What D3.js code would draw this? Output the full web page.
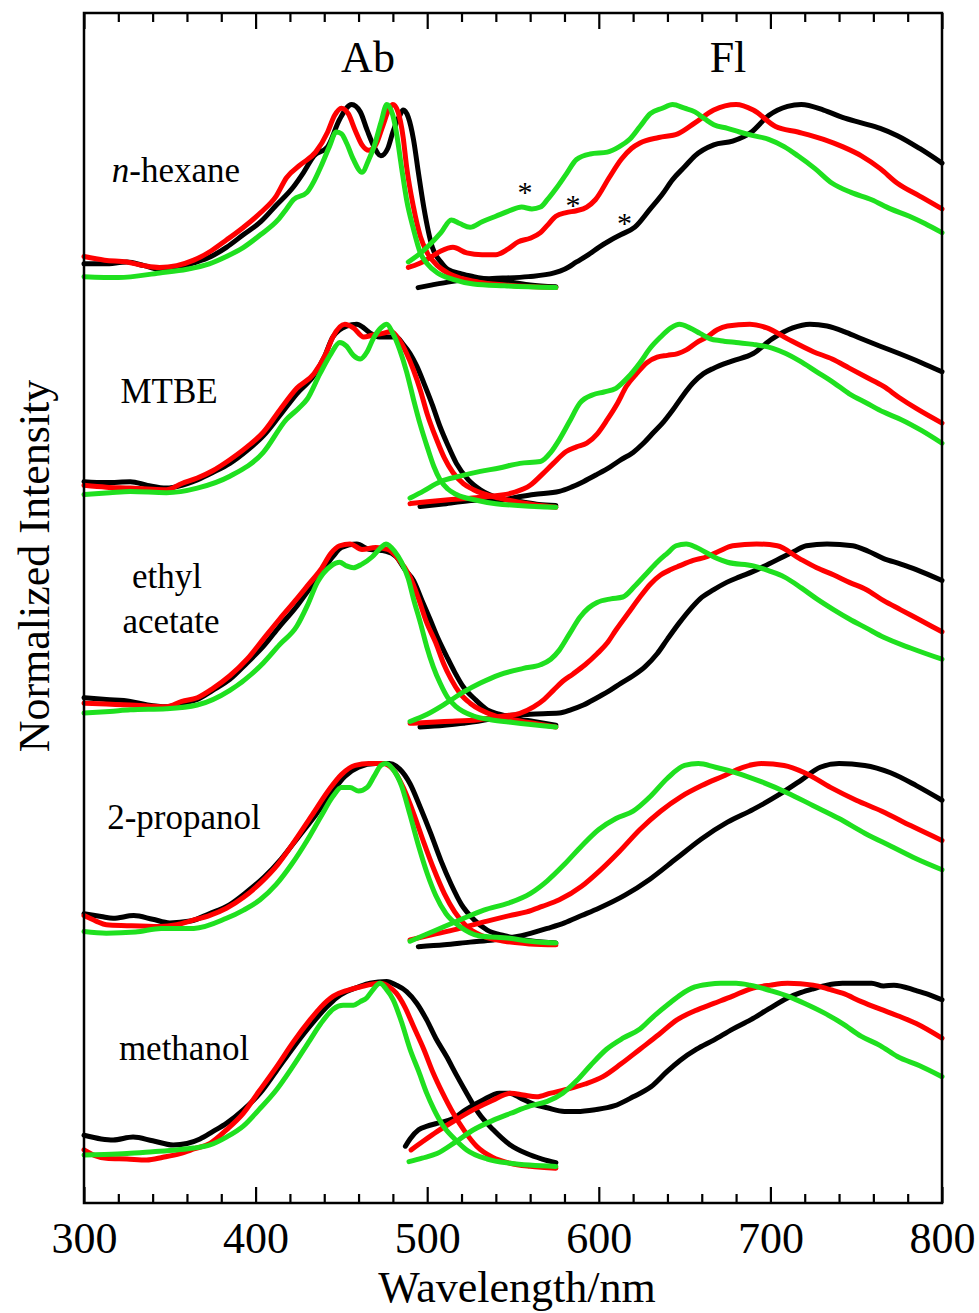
<!DOCTYPE html>
<html><head><meta charset="utf-8">
<script src="https://cdn.jsdelivr.net/npm/d3@7"></script>
<style>body{margin:0;background:#fff}svg{display:block}text{font-family:"Liberation Serif","Times New Roman",serif;fill:#000}</style>
</head><body><svg id="c" width="979" height="1313"></svg>
<script>
// ---------- data ----------
const solvents = ["n-hexane", "MTBE", "ethyl acetate", "2-propanol", "methanol"];
const panelOffsets = [4.8, 3.6, 2.4, 1.2, 0];
const xTicksMajor = [300, 400, 500, 600, 700, 800];
const seriesColors = {black: "#000000", red: "#ff0000", green: "#1fe01f"};
const bandLabels = ["Ab", "Fl"];
const asterisks = [[557, 5.35], [585, 5.28], [615, 5.18]];

// n-hexane
const hexAbsK = [[300,0.13],[312,0.13],[325,0.14],[335,0.12],[344,0.10],[355,0.11],[364,0.135],[374,0.17],[383,0.22],[393,0.29],[403,0.36],[412,0.45],[422,0.55],[428,0.63],[434,0.72],[442,0.77],[449,0.92],[456,1.0],[461,0.96],[465,0.86],[469,0.77],[473,0.72],[477,0.76],[480,0.85],[484,0.94],[486,0.97],[489,0.93],[492,0.81],[495,0.62],[498,0.44],[503,0.22],[508,0.14],[512,0.10],[520,0.075],[527,0.06],[540,0.04],[549,0.03],[560,0.015],[575,0.005]];
const hexAbsR = [[300,0.17],[312,0.15],[325,0.14],[335,0.12],[344,0.11],[354,0.12],[364,0.15],[374,0.20],[383,0.26],[393,0.33],[403,0.41],[412,0.50],[418,0.60],[426,0.67],[435,0.74],[442,0.85],[446,0.94],[450,0.98],[454,0.95],[458,0.86],[462,0.78],[466,0.75],[470,0.78],[474,0.88],[478,0.98],[480,1.0],[483,0.96],[486,0.82],[488,0.66],[492,0.44],[496,0.28],[500,0.19],[506,0.12],[512,0.08],[520,0.05],[530,0.03],[545,0.015],[575,0.0]];
const hexAbsG = [[300,0.06],[320,0.055],[344,0.08],[360,0.10],[373,0.13],[383,0.17],[393,0.22],[403,0.29],[413,0.37],[418,0.43],[422,0.48],[430,0.52],[434,0.58],[438,0.66],[443,0.77],[447,0.85],[450,0.84],[453,0.79],[457,0.70],[462,0.63],[466,0.70],[469,0.77],[473,0.90],[476.5,1.0],[480,0.94],[482,0.85],[485,0.66],[488,0.48],[492,0.32],[496,0.19],[500,0.13],[506,0.08],[515,0.045],[527,0.02],[545,0.01],[575,0.0]];
const hexFlK = [[494.7,0.0],[503,0.015],[512,0.03],[525,0.045],[538,0.05],[559,0.06],[574,0.08],[580,0.10],[587,0.14],[594,0.18],[600,0.22],[607,0.26],[613,0.29],[621,0.33],[630,0.43],[637,0.51],[643,0.59],[650,0.66],[656,0.72],[667,0.78],[678,0.80],[689,0.85],[699,0.94],[710,0.99],[718,1.0],[731,0.97],[742,0.93],[753,0.90],[764,0.87],[774,0.83],[787,0.76],[800,0.68]];
const hexFlR = [[489,0.11],[495,0.13],[501,0.16],[508,0.20],[515,0.22],[523,0.19],[532,0.18],[540,0.18],[547,0.21],[553,0.25],[560,0.27],[566,0.30],[570,0.34],[575,0.39],[581,0.41],[587,0.42],[593,0.44],[598,0.48],[606,0.60],[613,0.70],[619,0.76],[624,0.79],[635,0.82],[646,0.84],[656,0.90],[667,0.97],[680,1.0],[690,0.97],[703,0.88],[716,0.85],[731,0.81],[742,0.77],[753,0.72],[764,0.65],[774,0.57],[787,0.50],[800,0.43]];
const hexFlG = [[489,0.14],[495,0.18],[501,0.23],[508,0.30],[514,0.37],[519,0.35],[525,0.33],[532,0.36],[540,0.39],[548,0.42],[555,0.44],[561,0.43],[566,0.44],[570,0.48],[575,0.54],[581,0.62],[587,0.70],[595,0.73],[605,0.74],[612,0.77],[618,0.81],[624,0.88],[630,0.95],[637,0.98],[643,1.0],[650,0.98],[656,0.96],[662,0.92],[667,0.89],[675,0.87],[682,0.85],[690,0.83],[699,0.81],[708,0.77],[716,0.72],[726,0.65],[736,0.57],[747,0.52],[759,0.48],[770,0.43],[781,0.39],[790,0.35],[800,0.30]];

// MTBE
const mtbeAbsK = [[300,0.14],[313,0.135],[327,0.14],[337,0.12],[348,0.105],[357,0.12],[366,0.15],[375,0.19],[385,0.24],[395,0.31],[404.5,0.39],[414,0.50],[424,0.62],[434,0.72],[440,0.82],[445,0.93],[453,0.99],[459,1.0],[463,0.98],[467,0.95],[472,0.93],[476,0.93],[482,0.93],[486,0.89],[490,0.84],[494,0.77],[498,0.68],[503,0.56],[507.5,0.44],[512,0.34],[517,0.24],[524,0.15],[531,0.096],[542,0.05],[555,0.03],[565,0.015],[575,0.01]];
const mtbeAbsR = [[300,0.12],[313,0.11],[327,0.105],[337,0.10],[348,0.096],[357,0.13],[366,0.16],[375,0.20],[385,0.26],[395,0.33],[404.5,0.41],[414,0.53],[424,0.65],[434,0.73],[441,0.84],[445,0.93],[452,1.0],[457,0.98],[463,0.93],[468,0.94],[474,0.95],[479,0.96],[484,0.91],[488,0.84],[492,0.75],[496,0.64],[500,0.51],[505.5,0.37],[510,0.27],[515,0.19],[521,0.13],[527,0.096],[542,0.05],[555,0.025],[575,0.0]];
const mtbeAbsG = [[300,0.07],[315,0.08],[327,0.087],[348,0.08],[366,0.105],[385,0.17],[404.5,0.30],[418,0.48],[425,0.54],[430,0.59],[437.5,0.73],[444,0.84],[449,0.90],[453,0.88],[457,0.83],[461,0.81],[465,0.85],[468.5,0.92],[473,0.98],[476.4,1.0],[480,0.95],[484,0.86],[488,0.74],[492,0.59],[496,0.45],[500,0.33],[504,0.22],[507.5,0.15],[512,0.10],[517,0.07],[528,0.04],[540,0.02],[575,0.0]];
const mtbeFlK = [[495.8,0.005],[511,0.02],[531,0.04],[542,0.04],[552,0.055],[562,0.07],[577,0.087],[584,0.11],[591,0.14],[599,0.18],[606.5,0.22],[613,0.26],[620,0.30],[626,0.35],[632,0.41],[638,0.47],[643,0.53],[649,0.61],[655,0.68],[661,0.73],[667,0.76],[678,0.80],[690,0.84],[701,0.92],[713,0.98],[723,1.0],[733,0.99],[743,0.96],[752,0.925],[764,0.88],[775,0.84],[788,0.79],[800,0.74]];
const mtbeFlR = [[490,0.02],[500,0.03],[511,0.04],[525,0.05],[537,0.06],[550,0.08],[560,0.12],[567,0.18],[573.5,0.24],[581,0.305],[587,0.33],[593,0.35],[599,0.40],[605,0.48],[611,0.57],[616,0.66],[622,0.73],[628,0.79],[634,0.82],[640,0.83],[646,0.84],[651,0.86],[657,0.90],[663,0.93],[669,0.97],[675,0.99],[688,1.0],[698,0.98],[710,0.92],[725,0.85],[736,0.81],[746,0.76],[756,0.71],[766,0.66],[775,0.60],[785,0.54],[800,0.46]];
const mtbeFlG = [[490,0.05],[498,0.09],[507.5,0.14],[519,0.17],[531,0.196],[542,0.215],[554,0.24],[566,0.25],[572,0.30],[577,0.37],[583,0.47],[589,0.57],[596.6,0.615],[603,0.63],[610,0.65],[617,0.71],[624,0.79],[630,0.87],[636,0.93],[642,0.98],[647,1.0],[653,0.98],[659,0.95],[665,0.92],[671,0.91],[680,0.90],[690,0.89],[701,0.87],[709,0.84],[717,0.80],[727,0.74],[737,0.68],[746,0.62],[756,0.57],[766,0.52],[776,0.48],[788,0.42],[800,0.35]];

// ethyl acetate
const eaAbsK = [[300,0.16],[313,0.15],[327,0.14],[337,0.12],[348,0.11],[357,0.13],[366,0.15],[375,0.20],[385,0.26],[395,0.35],[404.5,0.44],[414,0.55],[424,0.66],[431,0.75],[438,0.84],[445,0.93],[450,0.98],[459,1.0],[466,0.97],[476,0.96],[482,0.93],[487,0.86],[492,0.80],[497,0.69],[501.6,0.59],[506,0.49],[511.4,0.385],[516,0.30],[521,0.22],[528,0.15],[535,0.094],[542,0.07],[550,0.05],[562,0.03],[575,0.01]];
const eaAbsR = [[300,0.13],[313,0.125],[327,0.12],[337,0.115],[348,0.11],[357,0.14],[366,0.16],[375,0.21],[385,0.28],[395,0.37],[404.5,0.48],[414,0.59],[424,0.70],[431,0.78],[438,0.86],[444,0.95],[449,0.99],[455,1.0],[462,0.97],[470,0.98],[477,0.97],[483,0.92],[490,0.82],[495,0.70],[499.7,0.57],[505,0.46],[509.4,0.35],[514,0.26],[519,0.185],[525,0.13],[531,0.094],[540,0.06],[550,0.04],[562,0.02],[575,0.0]];
const eaAbsG = [[300,0.076],[315,0.085],[327,0.094],[348,0.10],[366,0.12],[385,0.20],[404.5,0.35],[414,0.45],[424,0.55],[430,0.66],[436,0.79],[444,0.88],[449,0.90],[453,0.88],[457,0.87],[462,0.89],[468,0.93],[473,0.98],[476,1.0],[481,0.96],[485,0.90],[489,0.81],[492,0.70],[496,0.57],[499.7,0.44],[503.5,0.33],[507.5,0.24],[512,0.16],[517,0.11],[527,0.06],[537,0.04],[550,0.025],[575,0.0]];
const eaFlK = [[495.8,0.0],[510,0.01],[521,0.02],[535,0.04],[542,0.057],[560,0.07],[577,0.076],[584,0.095],[591,0.12],[599,0.16],[606.5,0.20],[613,0.24],[620,0.28],[627,0.33],[634,0.40],[640,0.48],[647,0.57],[653,0.64],[659,0.70],[667,0.75],[674.5,0.79],[682,0.82],[690,0.85],[699,0.89],[707.5,0.93],[714,0.96],[721,0.99],[733,1.0],[748,0.99],[757,0.96],[766,0.92],[776,0.89],[785,0.86],[800,0.80]];
const eaFlR = [[490,0.02],[510,0.03],[530,0.04],[542,0.057],[554,0.075],[562,0.11],[568,0.15],[573.5,0.20],[579,0.25],[585,0.29],[592,0.34],[599,0.40],[605,0.46],[610,0.53],[617,0.62],[624,0.71],[630,0.78],[636,0.83],[642,0.86],[647,0.88],[655,0.91],[663,0.93],[670,0.96],[678,0.99],[692,1.0],[704,0.99],[717,0.92],[727,0.87],[737,0.83],[746,0.79],[756,0.75],[766,0.69],[776,0.64],[788,0.58],[800,0.52]];
const eaFlG = [[490,0.03],[500,0.07],[511,0.13],[521,0.19],[531,0.24],[542,0.285],[556,0.32],[566,0.34],[572,0.37],[577,0.42],[583,0.51],[589,0.60],[594,0.65],[599,0.68],[607,0.70],[614,0.71],[621,0.77],[628,0.84],[634,0.90],[640,0.95],[645,0.99],[651,1.0],[657,0.98],[663,0.95],[669,0.92],[675,0.90],[690,0.88],[700,0.85],[708,0.82],[718,0.76],[727,0.70],[737,0.64],[746,0.59],[756,0.54],[766,0.49],[782,0.43],[800,0.37]];

// 2-propanol
const propAbsK = [[300,0.18],[310,0.165],[317,0.155],[329,0.17],[340,0.15],[350,0.13],[362,0.14],[373,0.18],[385,0.23],[395,0.30],[405,0.38],[415,0.48],[425,0.60],[435,0.72],[445,0.85],[452,0.93],[460,0.98],[470,1.0],[478,1.0],[484,0.97],[490,0.89],[496,0.76],[502,0.62],[508,0.47],[514,0.34],[520,0.23],[527,0.15],[535,0.09],[545,0.06],[555,0.04],[575,0.02]];
const propAbsR = [[300,0.17],[307,0.14],[313,0.12],[325,0.115],[344,0.11],[354,0.12],[364,0.146],[373,0.17],[383,0.21],[393,0.27],[403,0.35],[413,0.45],[423,0.58],[433,0.72],[443,0.86],[450,0.94],[458,0.99],[466,1.0],[474,1.0],[480,0.97],[486,0.87],[492,0.73],[498,0.57],[504,0.42],[510,0.29],[516,0.19],[523,0.11],[532,0.06],[545,0.03],[560,0.015],[575,0.01]];
const propAbsG = [[300,0.083],[313,0.074],[330,0.08],[345,0.10],[364,0.10],[383,0.155],[393,0.20],[402.6,0.256],[412,0.34],[421,0.45],[430,0.58],[438,0.71],[445,0.82],[450,0.87],[455,0.87],[460,0.85],[465,0.87],[469,0.93],[473,0.99],[476,1.0],[480,0.97],[485,0.88],[490,0.72],[495,0.55],[500,0.40],[505,0.28],[511,0.18],[519,0.11],[530,0.06],[548,0.046],[560,0.03],[575,0.02]];
const propFlK = [[494.8,0.0],[510,0.01],[525,0.025],[538.5,0.037],[555,0.06],[570,0.10],[580,0.13],[590,0.17],[600,0.21],[615,0.28],[630,0.37],[645,0.48],[660,0.59],[675,0.68],[690,0.75],[705,0.83],[718,0.91],[729,0.98],[740,1.0],[755,0.99],[770,0.95],[785,0.88],[800,0.80]];
const propFlR = [[490,0.037],[505,0.07],[519,0.10],[535,0.14],[548,0.17],[558,0.19],[567,0.22],[577,0.256],[590,0.33],[600,0.41],[612,0.52],[624,0.64],[636,0.74],[648,0.82],[660,0.88],[672,0.93],[684,0.98],[695,1.0],[708,0.99],[720,0.95],[735,0.87],[750,0.80],[765,0.74],[782,0.66],[800,0.58]];
const propFlG = [[490,0.03],[505,0.09],[519,0.146],[533,0.20],[548,0.24],[560,0.29],[570,0.36],[580,0.45],[590,0.55],[600,0.64],[610,0.70],[620,0.74],[630,0.82],[640,0.92],[650,0.99],[658,1.0],[668,0.98],[680,0.95],[695,0.90],[710,0.84],[725,0.77],[740,0.70],[755,0.62],[770,0.55],[785,0.48],[800,0.42]];

// methanol
const methAbsK = [[300,0.17],[310,0.15],[317,0.144],[328.6,0.16],[340,0.14],[352,0.117],[360,0.125],[367.6,0.15],[375,0.19],[383,0.235],[393,0.31],[402.6,0.40],[412,0.52],[422,0.65],[432,0.77],[441.4,0.87],[447,0.92],[453,0.955],[460,0.98],[466.7,1.0],[476.4,1.01],[482,0.99],[488,0.955],[494,0.89],[499.7,0.80],[505,0.70],[511.3,0.60],[517,0.50],[523,0.40],[530,0.29],[538.5,0.20],[548,0.12],[558,0.07],[567,0.04],[575,0.02]];
const methAbsR = [[300,0.09],[306,0.06],[313,0.044],[325,0.04],[336.5,0.035],[346,0.05],[356,0.07],[364,0.095],[373.4,0.126],[383,0.20],[392.8,0.29],[402,0.41],[412.3,0.545],[422,0.68],[431.7,0.80],[438,0.87],[445.3,0.93],[453,0.96],[460.8,0.98],[472.5,1.0],[478,0.98],[482,0.946],[487,0.87],[492,0.765],[498,0.64],[503.5,0.51],[509,0.40],[515.2,0.29],[522,0.19],[528.8,0.11],[538,0.05],[548.3,0.017],[560,0.0],[575,-0.01]];
const methAbsG = [[300,0.062],[312,0.065],[325,0.07],[340,0.08],[354,0.09],[364,0.10],[373.4,0.117],[383,0.16],[392.8,0.22],[402,0.31],[412.3,0.42],[422,0.55],[431.7,0.69],[438,0.78],[445.3,0.86],[451,0.88],[457,0.88],[461,0.90],[464.7,0.92],[468,0.96],[472.5,1.0],[476,0.97],[480.2,0.91],[485,0.79],[490,0.64],[495,0.52],[499.7,0.40],[504,0.31],[509.4,0.22],[516,0.15],[523,0.09],[535,0.04],[548.3,0.017],[575,0.0]];
const methFlK = [[487.3,0.11],[490,0.15],[495,0.2],[500,0.22],[505.7,0.235],[515,0.26],[522.6,0.31],[532,0.36],[542,0.40],[548,0.40],[555,0.37],[562,0.34],[570,0.32],[580,0.30],[587.3,0.30],[598,0.31],[608.8,0.33],[620,0.38],[630.4,0.435],[640,0.52],[647.5,0.58],[657,0.64],[667,0.69],[678,0.75],[688.4,0.80],[699,0.86],[710,0.92],[718,0.95],[725,0.97],[733,0.99],[742,1.0],[759,1.0],[766,0.985],[772,0.99],[785,0.96],[792,0.94],[800,0.91]];
const methFlR = [[490.6,0.09],[498,0.14],[505.7,0.19],[516,0.25],[527,0.31],[538,0.36],[548.7,0.40],[556,0.39],[563.7,0.38],[572,0.40],[580.9,0.42],[592,0.45],[602.4,0.49],[613,0.56],[624,0.64],[635,0.72],[645.5,0.80],[656,0.85],[667,0.89],[678,0.93],[688.4,0.97],[700,0.99],[710,1.0],[725,0.99],[735,0.965],[742,0.946],[753,0.90],[763.7,0.86],[775,0.82],[785,0.78],[800,0.70]];
const methFlG = [[489.4,0.026],[497,0.045],[505.7,0.07],[516,0.13],[527,0.2],[538,0.25],[548.7,0.29],[560,0.33],[570,0.355],[579,0.40],[587.3,0.47],[595,0.55],[604.5,0.64],[614,0.70],[624,0.75],[632,0.82],[641,0.89],[648,0.94],[656,0.98],[664,0.995],[671,1.0],[680,1.0],[688,0.99],[700,0.96],[710,0.93],[720,0.89],[731,0.84],[742,0.78],[753,0.71],[764,0.66],[774,0.60],[787,0.55],[800,0.49]];

const panels = [
  {abs: {black: hexAbsK, red: hexAbsR, green: hexAbsG}, fl: {black: hexFlK, red: hexFlR, green: hexFlG}},
  {abs: {black: mtbeAbsK, red: mtbeAbsR, green: mtbeAbsG}, fl: {black: mtbeFlK, red: mtbeFlR, green: mtbeFlG}},
  {abs: {black: eaAbsK, red: eaAbsR, green: eaAbsG}, fl: {black: eaFlK, red: eaFlR, green: eaFlG}},
  {abs: {black: propAbsK, red: propAbsR, green: propAbsG}, fl: {black: propFlK, red: propFlR, green: propFlG}},
  {abs: {black: methAbsK, red: methAbsR, green: methAbsG}, fl: {black: methFlK, red: methFlR, green: methFlG}}
];

// ---------- layout ----------
const W = 979, H = 1313;
const m = {left: 84, right: 942, top: 13, bottom: 1203};
const svg = d3.select("#c");
const x = d3.scaleLinear().domain([300, 800]).range([m.left, m.right]);
const y = d3.scaleLinear().domain([-0.2, 6.3]).range([m.bottom, m.top]);

const line = d3.line().x(d => x(d[0])).y(d => y(d[1])).curve(d3.curveMonotoneX);

const plot = svg.append("g");
panels.forEach((p, i) => {
  const off = panelOffsets[i];
  ["black", "red", "green"].forEach(c => {
    ["abs", "fl"].forEach(k => {
      plot.append("path")
        .attr("d", line(p[k][c].map(d => [d[0], d[1] + off])))
        .attr("fill", "none").attr("stroke", seriesColors[c])
        .attr("stroke-width", 5).attr("stroke-linejoin", "round").attr("stroke-linecap", "round");
    });
  });
});

// frame
svg.append("rect").attr("x", m.left).attr("y", m.top)
  .attr("width", m.right - m.left).attr("height", m.bottom - m.top)
  .attr("fill", "none").attr("stroke", "#000").attr("stroke-width", 2.5);

// axes (inward ticks)
const minorTicks = d3.range(300, 801, 20).filter(v => v % 100 !== 0);
function styleAxis(g) { g.select(".domain").remove(); g.selectAll("line").attr("stroke", "#000").attr("stroke-width", 2.2); }
svg.append("g").attr("transform", `translate(0,${m.bottom})`)
  .call(d3.axisBottom(x).tickValues(xTicksMajor).tickSize(-16).tickPadding(20).tickFormat(d3.format("d")))
  .call(styleAxis)
  .call(g => g.selectAll("text").attr("font-size", 44).attr("font-family", "Liberation Serif, Times New Roman, serif").attr("y", 50).attr("dy", 0).attr("fill", "#000"));
svg.append("g").attr("transform", `translate(0,${m.bottom})`)
  .call(d3.axisBottom(x).tickValues(minorTicks).tickSize(-9).tickFormat(""))
  .call(styleAxis);
svg.append("g").attr("transform", `translate(0,${m.top})`)
  .call(d3.axisTop(x).tickValues(xTicksMajor).tickSize(-16).tickFormat(""))
  .call(styleAxis);
svg.append("g").attr("transform", `translate(0,${m.top})`)
  .call(d3.axisTop(x).tickValues(minorTicks).tickSize(-9).tickFormat(""))
  .call(styleAxis);

// axis titles
svg.append("text").attr("x", 517).attr("y", 1302).attr("text-anchor", "middle")
  .attr("font-size", 44).text("Wavelength/nm");
svg.append("text").attr("transform", "translate(49,566) rotate(-90)").attr("text-anchor", "middle")
  .attr("font-size", 44).text("Normalized Intensity");

// band labels
svg.append("text").attr("x", 368).attr("y", 72).attr("text-anchor", "middle").attr("font-size", 44).text(bandLabels[0]);
svg.append("text").attr("x", 728).attr("y", 72).attr("text-anchor", "middle").attr("font-size", 44).text(bandLabels[1]);

// solvent labels
const lab = {size: 35};
const t0 = svg.append("text").attr("x", 176).attr("y", 182).attr("text-anchor", "middle").attr("font-size", lab.size);
t0.append("tspan").attr("font-style", "italic").text(solvents[0].slice(0, 1));
t0.append("tspan").text(solvents[0].slice(1));
svg.append("text").attr("x", 169).attr("y", 403).attr("text-anchor", "middle").attr("font-size", lab.size).text(solvents[1]);
const eaParts = solvents[2].split(" ");
svg.append("text").attr("x", 167).attr("y", 588).attr("text-anchor", "middle").attr("font-size", lab.size).text(eaParts[0]);
svg.append("text").attr("x", 171).attr("y", 633).attr("text-anchor", "middle").attr("font-size", lab.size).text(eaParts[1]);
svg.append("text").attr("x", 184).attr("y", 829).attr("text-anchor", "middle").attr("font-size", lab.size).text(solvents[3]);
svg.append("text").attr("x", 184).attr("y", 1060).attr("text-anchor", "middle").attr("font-size", lab.size).text(solvents[4]);

// asterisks
asterisks.forEach(a => {
  svg.append("text").attr("x", x(a[0])).attr("y", y(a[1]) + 15).attr("text-anchor", "middle")
    .attr("font-size", 30).text("*");
});
</script>
</body></html>
